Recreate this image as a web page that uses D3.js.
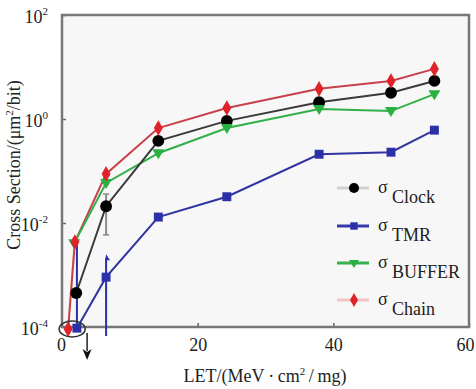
<!DOCTYPE html>
<html><head><meta charset="utf-8">
<script src="https://cdn.jsdelivr.net/npm/d3@7"></script>
<style>
html,body{margin:0;padding:0;background:#fff;}
svg{display:block;}
</style></head>
<body><svg id="c" width="476" height="389"></svg>
<script>
// ---- data ----
const xTicks = [0, 20, 40, 60];
const yTicks = [-4, -2, 0, 2]; // exponents of 10
const clockX  = [2.1, 6.5, 14.2, 24.3, 37.9, 48.5, 54.9];
const clockY  = [4.5e-4, 0.021, 0.38, 0.92, 2.1, 3.2, 5.4];
const tmrX    = [2.2, 6.5, 14.2, 24.3, 37.9, 48.5, 54.9];
const tmrY    = [9.5e-5, 9.1e-4, 0.013, 0.032, 0.21, 0.23, 0.61];
const bufferX = [1.8, 6.5, 14.2, 24.3, 37.9, 48.5, 54.9];
const bufferY = [0.0041, 0.059, 0.22, 0.67, 1.56, 1.42, 3.0];
const chainX  = [0.9, 1.9, 6.5, 14.2, 24.3, 37.9, 48.5, 54.9];
const chainY  = [9.1e-5, 0.0043, 0.088, 0.67, 1.63, 3.8, 5.4, 9.2];
// error bars: [x, low, high]
const clockErr = [[6.5, 0.0059, 0.036]];
const tmrErr   = [[2.2, 9.5e-5, 0.0041], [6.5, 6.7e-5, 0.0021]];
const legendNames = ["Clock", "TMR", "BUFFER", "Chain"];

const FONT = "Liberation Serif";
const svg = d3.select("#c");
const x = d3.scaleLinear().domain([0, 60]).range([62, 469]);
const y = d3.scaleLog().domain([1e-4, 1e2]).range([327, 15]);

// plot background
svg.append("rect").attr("x", x(0)).attr("y", y(1e2))
  .attr("width", x(60) - x(0)).attr("height", y(1e-4) - y(1e2))
  .attr("fill", "#f7f7f7");

// axes
const gx = svg.append("g").attr("transform", `translate(0,${y(1e-4)})`)
  .call(d3.axisBottom(x).tickValues(xTicks).tickSize(-4).tickPadding(11).tickFormat(d3.format("d")));
gx.select(".domain").remove();
gx.selectAll("line").attr("stroke", "#666").attr("stroke-width", 1.5);
gx.selectAll("text").attr("font-size", 18).attr("fill", "#222").style("font-family", FONT)
  .attr("dx", d => d === 60 ? -4 : (d === 0 ? -1 : 0));

const gy = svg.append("g").attr("transform", `translate(${x(0)},0)`)
  .call(d3.axisLeft(y).tickValues(yTicks.map(e => Math.pow(10, e))).tickSize(-4).tickPadding(14).tickFormat(() => ""));
gy.select(".domain").remove();
gy.selectAll("line").attr("stroke", "#666").attr("stroke-width", 1.5);
gy.selectAll(".tick text").each(function(d, i) {
  const t = d3.select(this).attr("font-size", 18).attr("fill", "#222")
    .style("font-family", FONT).attr("dy", "0.4em");
  t.append("tspan").text("10");
  t.append("tspan").attr("font-size", 11).attr("dy", -8).text(String(yTicks[i]));
});

// frame
svg.append("rect").attr("x", x(0)).attr("y", y(1e2))
  .attr("width", x(60) - x(0)).attr("height", y(1e-4) - y(1e2))
  .attr("fill", "none").attr("stroke", "#777").attr("stroke-width", 2.5);

// faint yellow line in the reference (low-LET segment)
svg.append("line").attr("x1", x(chainX[0])).attr("y1", y(chainY[0]))
  .attr("x2", x(bufferX[0])).attr("y2", y(bufferY[0]))
  .attr("stroke", "#e8d870").attr("stroke-width", 1.5);

const series = [
  {xs: chainX,  ys: chainY,  line: "#c8404c", mark: "#e0222a", sym: d3.symbolDiamond, size: 70},
  {xs: bufferX, ys: bufferY, line: "#30b048", mark: "#28b040", sym: "tri", size: 0},
  {xs: clockX,  ys: clockY,  line: "#3a3a3a", mark: "#000000", sym: d3.symbolCircle, size: 110},
  {xs: tmrX,    ys: tmrY,    line: "#3034a0", mark: "#2c30a8", sym: d3.symbolSquare, size: 80},
];
const lineGen = d3.line().x(d => x(d[0])).y(d => y(d[1]));
const triPath = "M-6,-4L6,-4L0,6Z";

// error bars
function errBars(data, color, cap) {
  data.forEach(([ex, lo, hi]) => {
    svg.append("line").attr("x1", x(ex)).attr("x2", x(ex)).attr("y1", y(lo)).attr("y2", y(hi))
      .attr("stroke", color).attr("stroke-width", 2);
    if (cap) {
      [lo, hi].forEach(v => svg.append("line").attr("x1", x(ex) - 3).attr("x2", x(ex) + 3)
        .attr("y1", y(v)).attr("y2", y(v)).attr("stroke", color).attr("stroke-width", 1.5));
    }
  });
}
errBars(clockErr, "#8a8a8a", true);
errBars(tmrErr, "#2c30a8", false);
// flag at top of TMR bar at 6.5
svg.append("path").attr("transform", `translate(${x(tmrErr[1][0])},${y(tmrErr[1][2])})`)
  .attr("d", "M0,-4L4,2L0,2Z M0,-4L-1,2L0,2Z").attr("fill", "#2c30a8");

series.forEach(s => {
  const pts = s.xs.map((v, i) => [v, s.ys[i]]);
  svg.append("path").attr("d", lineGen(pts)).attr("fill", "none")
    .attr("stroke", s.line).attr("stroke-width", 2);
});
series.slice().reverse().forEach(s => {
  const pts = s.xs.map((v, i) => [v, s.ys[i]]);
  svg.selectAll(null).data(pts).enter().append("path")
    .attr("transform", d => `translate(${x(d[0])},${y(d[1])})`)
    .attr("d", s.sym === "tri" ? triPath : d3.symbol().type(s.sym).size(s.size)())
    .attr("fill", s.mark);
});

// ellipse + arrow annotation
svg.append("ellipse").attr("cx", x(1.5)).attr("cy", y(1e-4) + 2).attr("rx", 13).attr("ry", 8)
  .attr("fill", "none").attr("stroke", "#333").attr("stroke-width", 1.6);
svg.append("line").attr("x1", x(3.7)).attr("x2", x(3.7)).attr("y1", y(1e-4) + 6).attr("y2", y(1e-4) + 24)
  .attr("stroke", "#222").attr("stroke-width", 1.5);
svg.append("path").attr("transform", `translate(${x(3.7)},${y(1e-4) + 33})`)
  .attr("d", "M0,0L-4.5,-11L0,-8L4.5,-11Z").attr("fill", "#111");

// legend
const legLine = ["#d0d0d0", "#3438a8", "#38b050", "#f2c4c4"];
const legMark = ["#000", "#2c30a8", "#28b040", "#e0222a"];
const legSym = [d3.symbolCircle, d3.symbolSquare, "tri", d3.symbolDiamond];
const legY = [188, 226, 263, 300];
legendNames.forEach((n, i) => {
  const g = svg.append("g").attr("transform", `translate(0,${legY[i]})`);
  g.append("line").attr("x1", 337).attr("x2", 369).attr("y1", 0).attr("y2", 0)
    .attr("stroke", legLine[i]).attr("stroke-width", 3);
  g.append("path").attr("transform", "translate(354,0)")
    .attr("d", legSym[i] === "tri" ? "M-5,-3L5,-3L0,5Z" : d3.symbol().type(legSym[i]).size(i === 0 ? 80 : 55)())
    .attr("fill", legMark[i]);
  const t = g.append("text").attr("x", 378).attr("y", 5).attr("font-size", 18).attr("fill", "#222")
    .style("font-family", FONT);
  t.append("tspan").text("σ");
  t.append("tspan").attr("x", 392).attr("y", 15).text(n);
});

// axis titles
const xt = svg.append("text").attr("x", 265).attr("y", 382).attr("text-anchor", "middle")
  .attr("font-size", 18).attr("fill", "#222").style("font-family", FONT);
xt.append("tspan").text("LET/(MeV\u2009·\u2009cm");
xt.append("tspan").attr("font-size", 11).attr("dy", -7).text("2");
xt.append("tspan").attr("dy", 7).text("\u2009/\u2009mg)");

const yt = svg.append("text").attr("transform", "translate(20,165) rotate(-90)").attr("text-anchor", "middle")
  .attr("font-size", 18).attr("fill", "#222").style("font-family", FONT);
yt.append("tspan").text("Cross Section/(μm");
yt.append("tspan").attr("font-size", 11).attr("dy", -7).text("2");
yt.append("tspan").attr("dy", 7).text("/bit)");
</script></body></html>
